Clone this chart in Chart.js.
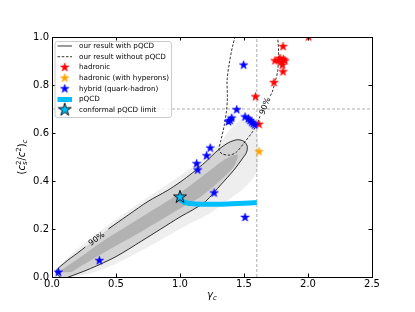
<!DOCTYPE html>
<html><head><meta charset="utf-8">
<script src="https://cdn.jsdelivr.net/npm/chart.js@4"></script>
<style>html,body{margin:0;padding:0;background:#fff}</style>
</head><body><canvas id="c" width="415" height="312"></canvas>
<script>
// ---------- data ----------
const xTickValues = [0, 0.5, 1.0, 1.5, 2.0, 2.5];
const yTickValues = [0, 0.2, 0.4, 0.6, 0.8, 1.0];

const hybridX = [0.05, 0.37, 1.13, 1.138, 1.208, 1.236, 1.267, 1.508, 1.497, 1.378, 1.392, 1.404, 1.443, 1.508, 1.534, 1.547, 1.56, 1.572, 1.584];
const hybridY = [0.02, 0.068, 0.472, 0.446, 0.505, 0.537, 0.35, 0.248, 0.883, 0.647, 0.652, 0.662, 0.697, 0.667, 0.659, 0.652, 0.645, 0.639, 0.633];

const hadronX = [1.617, 1.59, 1.734, 1.805, 1.805, 1.742, 1.773, 1.781, 1.807, 1.789, 1.82, 1.80, 2.005];
const hadronY = [0.636, 0.751, 0.81, 0.855, 0.96, 0.901, 0.904, 0.911, 0.907, 0.897, 0.901, 0.883, 1.0];

const hyperonX = [1.617];
const hyperonY = [0.522];

const conformalX = [1.0];
const conformalY = [0.333];

const pqcdX = [1.0, 1.02, 1.05, 1.1, 1.2, 1.3, 1.4, 1.5, 1.6];
const pqcdY = [0.326, 0.315, 0.309, 0.305, 0.303, 0.303, 0.305, 0.307, 0.31];

// 90% contour, with pQCD (solid); NaN = gap for the inline label
const withX = [0.12, 0.03, 0.1, 0.2, 0.26, NaN, 0.44, 0.6, 0.75, 0.9, 1.0, 1.1, 1.2, 1.3, 1.38, 1.45, 1.5, 1.525, 1.52, 1.49, 1.42, 1.32, 1.2, 1.1, 1.0, 0.85, 0.7, 0.5, 0.3, 0.12];
const withY = [-0.02, 0.02, 0.06, 0.1, 0.125, NaN, 0.2, 0.26, 0.315, 0.36, 0.395, 0.435, 0.48, 0.53, 0.56, 0.572, 0.565, 0.545, 0.52, 0.495, 0.445, 0.385, 0.315, 0.28, 0.25, 0.2, 0.15, 0.085, 0.035, -0.002];

// 90% contour, without pQCD (dashed)
const withoutX = [1.44, 1.41, 1.385, 1.368, 1.37, 1.365, 1.345, 1.32, 1.305, 1.33, 1.39, 1.44, 1.495, 1.56, 1.6, 1.625, NaN, 1.705, 1.72, 1.742, 1.763, 1.77, 1.76];
const withoutY = [1.02, 0.96, 0.89, 0.82, 0.75, 0.70, 0.63, 0.57, 0.53, 0.513, 0.508, 0.52, 0.555, 0.6, 0.635, 0.67, NaN, 0.755, 0.77, 0.81, 0.86, 0.94, 1.02];

// sample cloud envelopes (sparse outer region and dense core)
const cloudOuterX = [0.0, 0.1, 0.3, 0.5, 0.7, 0.9, 1.1, 1.3, 1.4, 1.5, 1.58, 1.61, 1.6, 1.5, 1.4, 1.3, 1.2, 1.05, 0.9, 0.7, 0.5, 0.3, 0.15];
const cloudOuterY = [0.0, 0.07, 0.16, 0.24, 0.315, 0.385, 0.46, 0.55, 0.62, 0.66, 0.64, 0.56, 0.44, 0.37, 0.33, 0.29, 0.255, 0.215, 0.17, 0.11, 0.055, 0.015, 0.0];
const cloudCoreX = [0.05, 0.2, 0.4, 0.7, 1.0, 1.2, 1.35, 1.45, 1.42, 1.3, 1.15, 1.0, 0.7, 0.4, 0.15];
const cloudCoreY = [0.02, 0.075, 0.15, 0.25, 0.35, 0.43, 0.49, 0.51, 0.46, 0.395, 0.33, 0.285, 0.19, 0.1, 0.02];

const refX = [1.6];   // vertical reference line
const refY = [0.7];   // horizontal reference line

// ---------- helpers ----------
const pts = (xs, ys) => xs.map((x, i) => ({x: x, y: ys[i]}));
function starPath(c, cx, cy, r) {
  const ri = r * 0.381966;
  c.beginPath();
  for (let i = 0; i < 10; i++) {
    const a = -Math.PI / 2 + i * Math.PI / 5;
    const rr = (i % 2) ? ri : r;
    c.lineTo(cx + rr * Math.cos(a), cy + rr * Math.sin(a));
  }
  c.closePath();
}
function starImg(r, fill, stroke, lw) {
  const s = Math.ceil(2 * (r + lw + 1));
  const cv = document.createElement('canvas');
  cv.width = s; cv.height = s;
  const c = cv.getContext('2d');
  starPath(c, s / 2, s / 2, r);
  c.fillStyle = fill; c.fill();
  c.lineWidth = lw; c.strokeStyle = stroke; c.lineJoin = 'miter'; c.stroke();
  return cv;
}
const BLUE = '#0000ff', RED = '#ff0000', ORANGE = '#ffa500', CYAN = '#00bfff';
const imgBlue = starImg(4.5, BLUE, BLUE, 0.6);
const imgRed = starImg(4.5, RED, RED, 0.6);
const imgOrange = starImg(4.5, ORANGE, ORANGE, 0.6);
const imgConf = starImg(6.8, CYAN, '#000', 0.9);

function drawParts(c, parts) {
  let w = 0;
  parts.forEach(p => { c.font = p.font; p.w = c.measureText(p.t).width; if (!p.stack) w += p.w; });
  return w;
}
function renderParts(c, parts, x0, y0) {
  let x = x0, lastX = x0;
  parts.forEach(p => {
    c.font = p.font;
    const px = p.stack ? lastX : x;
    c.fillText(p.t, px, y0 + (p.dy || 0));
    if (!p.stack) { lastX = x; x += p.w; }
  });
}

const F = 'DejaVu Sans';
const decor = {
  id: 'decor',
  afterDatasetsDraw(chart) {
    const c = chart.ctx, a = chart.chartArea;
    const xs = chart.scales.x, ys = chart.scales.y;
    c.save();
    // 90% labels
    c.fillStyle = '#000';
    c.font = '8px "' + F + '"';
    c.textAlign = 'center'; c.textBaseline = 'middle';
    c.save(); c.translate(xs.getPixelForValue(0.35), ys.getPixelForValue(0.158)); c.rotate(-0.62); c.fillText('90%', 0, 0); c.restore();
    c.save(); c.translate(xs.getPixelForValue(1.666), ys.getPixelForValue(0.712)); c.rotate(-1.2); c.fillText('90%', 0, 0); c.restore();
    // frame
    c.strokeStyle = '#000'; c.lineWidth = 1;
    c.strokeRect(Math.round(a.left) + 0.5, Math.round(a.top) + 0.5, Math.round(a.right - a.left), Math.round(a.bottom - a.top));
    // inward ticks
    c.beginPath();
    xTickValues.forEach(v => {
      const px = Math.round(xs.getPixelForValue(v)) + 0.5;
      c.moveTo(px, a.bottom); c.lineTo(px, a.bottom - 3.5);
      c.moveTo(px, a.top); c.lineTo(px, a.top + 3.5);
    });
    yTickValues.forEach(v => {
      const py = Math.round(ys.getPixelForValue(v)) + 0.5;
      c.moveTo(a.left, py); c.lineTo(a.left + 3.5, py);
      c.moveTo(a.right, py); c.lineTo(a.right - 3.5, py);
    });
    c.stroke();
    // axis titles (mathtext-like)
    c.textAlign = 'left'; c.textBaseline = 'alphabetic'; c.fillStyle = '#000';
    const N = '10px "' + F + '"', I = 'italic 10px "' + F + '"', SI = 'italic 7px "' + F + '"', SN = '7px "' + F + '"';
    const xl = [{t: 'γ', font: I}, {t: 'c', font: SI, dy: 2.2}];
    const xw = drawParts(c, xl);
    renderParts(c, xl, (a.left + a.right) / 2 - xw / 2, 298);
    const yl = [{t: '(', font: N}, {t: 'c', font: I}, {t: '2', font: SN, dy: -4}, {t: 's', font: SI, dy: 2.5, stack: true},
      {t: '/', font: N}, {t: 'c', font: I}, {t: '2', font: SN, dy: -4}, {t: ')', font: N}, {t: 'c', font: SI, dy: 2.5}];
    const yw = drawParts(c, yl);
    c.save(); c.translate(24.5, (a.top + a.bottom) / 2); c.rotate(-Math.PI / 2);
    renderParts(c, yl, -yw / 2, 0);
    c.restore();
    // legend
    const L = 55, T = 41.5, R = 171.5, B = 117.5, rr = 2.5;
    c.beginPath();
    c.moveTo(L + rr, T); c.lineTo(R - rr, T); c.quadraticCurveTo(R, T, R, T + rr);
    c.lineTo(R, B - rr); c.quadraticCurveTo(R, B, R - rr, B); c.lineTo(L + rr, B);
    c.quadraticCurveTo(L, B, L, B - rr); c.lineTo(L, T + rr); c.quadraticCurveTo(L, T, L + rr, T); c.closePath();
    c.fillStyle = 'rgba(255,255,255,0.8)'; c.fill();
    c.strokeStyle = '#cccccc'; c.lineWidth = 1; c.stroke();
    const rows = [46, 56.7, 67.4, 78.1, 88.8, 99.5, 110.2];
    const labels = ['our result with pQCD', 'our result without pQCD', 'hadronic', 'hadronic (with hyperons)', 'hybrid (quark-hadron)', 'pQCD', 'conformal pQCD limit'];
    const hx0 = 57.5, hx1 = 72, hc = 64.7;
    c.strokeStyle = '#808080'; c.lineWidth = 1.6; c.setLineDash([]);
    c.beginPath(); c.moveTo(hx0, rows[0]); c.lineTo(hx1, rows[0]); c.stroke();
    c.strokeStyle = '#000'; c.lineWidth = 0.8; c.setLineDash([2.6, 1.6]);
    c.beginPath(); c.moveTo(hx0, rows[1]); c.lineTo(hx1, rows[1]); c.stroke();
    c.setLineDash([]);
    c.drawImage(imgRed, hc - imgRed.width / 2, rows[2] - imgRed.height / 2);
    c.drawImage(imgOrange, hc - imgOrange.width / 2, rows[3] - imgOrange.height / 2);
    c.drawImage(imgBlue, hc - imgBlue.width / 2, rows[4] - imgBlue.height / 2);
    c.fillStyle = CYAN; c.fillRect(hx0, rows[5] - 2.5, hx1 - hx0, 5);
    c.drawImage(imgConf, hc - imgConf.width / 2, rows[6] - imgConf.height / 2 - 0.5);
    c.fillStyle = '#000'; c.font = '7.2px "' + F + '"'; c.textBaseline = 'middle';
    labels.forEach((t, i) => c.fillText(t, 79, rows[i]));
    c.restore();
  }
};

const base = {showLine: true, pointRadius: 0, pointHoverRadius: 0, spanGaps: false};
const datasets = [
  {label: 'conformal pQCD limit', data: pts(conformalX, conformalY), pointStyle: imgConf, pointRadius: 7, order: 0, clip: 10},
  {label: 'hybrid (quark-hadron)', data: pts(hybridX, hybridY), pointStyle: imgBlue, pointRadius: 5, order: 1, clip: 10},
  {label: 'hadronic', data: pts(hadronX, hadronY), pointStyle: imgRed, pointRadius: 5, order: 2, clip: 0},
  {label: 'hadronic (with hyperons)', data: pts(hyperonX, hyperonY), pointStyle: imgOrange, pointRadius: 5, order: 3, clip: 10},
  Object.assign({label: 'pQCD', data: pts(pqcdX, pqcdY), borderColor: CYAN, borderWidth: 5, borderCapStyle: 'butt', tension: 0.3, order: 4}, base),
  Object.assign({label: 'our result without pQCD', data: pts(withoutX, withoutY), borderColor: '#000', borderWidth: 0.8, borderDash: [2.6, 1.6], tension: 0.3, order: 5, clip: 0}, base),
  Object.assign({label: 'our result with pQCD', data: pts(withX, withY), borderColor: '#000', borderWidth: 0.8, tension: 0.3, order: 6, clip: 0}, base),
  Object.assign({label: 'ref v', data: pts([refX[0], refX[0]], [0, 1]), borderColor: '#999', borderWidth: 0.8, borderDash: [3, 2], order: 7}, base),
  Object.assign({label: 'ref h', data: pts([0, 2.5], [refY[0], refY[0]]), borderColor: '#999', borderWidth: 0.8, borderDash: [3, 2], order: 8}, base),
  Object.assign({label: 'cloud core', data: pts(cloudCoreX, cloudCoreY), borderWidth: 0, borderColor: 'rgba(0,0,0,0)', backgroundColor: 'rgba(130,130,130,0.4)', fill: 'shape', tension: 0.3, order: 9, clip: 0}, base),
  Object.assign({label: 'cloud inner', data: pts(withX.filter(v => !isNaN(v)), withY.filter(v => !isNaN(v))), borderWidth: 0, borderColor: 'rgba(0,0,0,0)', backgroundColor: 'rgba(170,170,170,0.4)', fill: 'shape', tension: 0.3, order: 10, clip: 0}, base),
  Object.assign({label: 'cloud outer', data: pts(cloudOuterX, cloudOuterY), borderWidth: 0, borderColor: 'rgba(0,0,0,0)', backgroundColor: 'rgba(200,200,200,0.3)', fill: 'shape', tension: 0.3, order: 11, clip: 0}, base)
];

new Chart(document.getElementById('c'), {
  type: 'scatter',
  data: {datasets: datasets},
  options: {
    responsive: false, animation: false, devicePixelRatio: 1,
    layout: {padding: {top: 37, right: 43, bottom: 0, left: 0}},
    plugins: {legend: {display: false}, tooltip: {enabled: false}},
    events: [],
    scales: {
      x: {type: 'linear', min: 0, max: 2.5,
        afterBuildTicks: s => { s.ticks = xTickValues.map(v => ({value: v})); },
        afterFit: s => { s.height = 35; },
        grid: {display: false, drawTicks: false}, border: {display: false},
        ticks: {color: '#000', font: {family: F, size: 10}, padding: 1, maxRotation: 0, autoSkip: false, callback: v => v.toFixed(1)}},
      y: {type: 'linear', min: 0, max: 1,
        afterBuildTicks: s => { s.ticks = yTickValues.map(v => ({value: v})); },
        afterFit: s => { s.width = 52; },
        grid: {display: false, drawTicks: false}, border: {display: false},
        ticks: {color: '#000', font: {family: F, size: 10}, padding: 3, autoSkip: false, callback: v => v.toFixed(1)}}
    }
  },
  plugins: [decor]
});
</script></body></html>
